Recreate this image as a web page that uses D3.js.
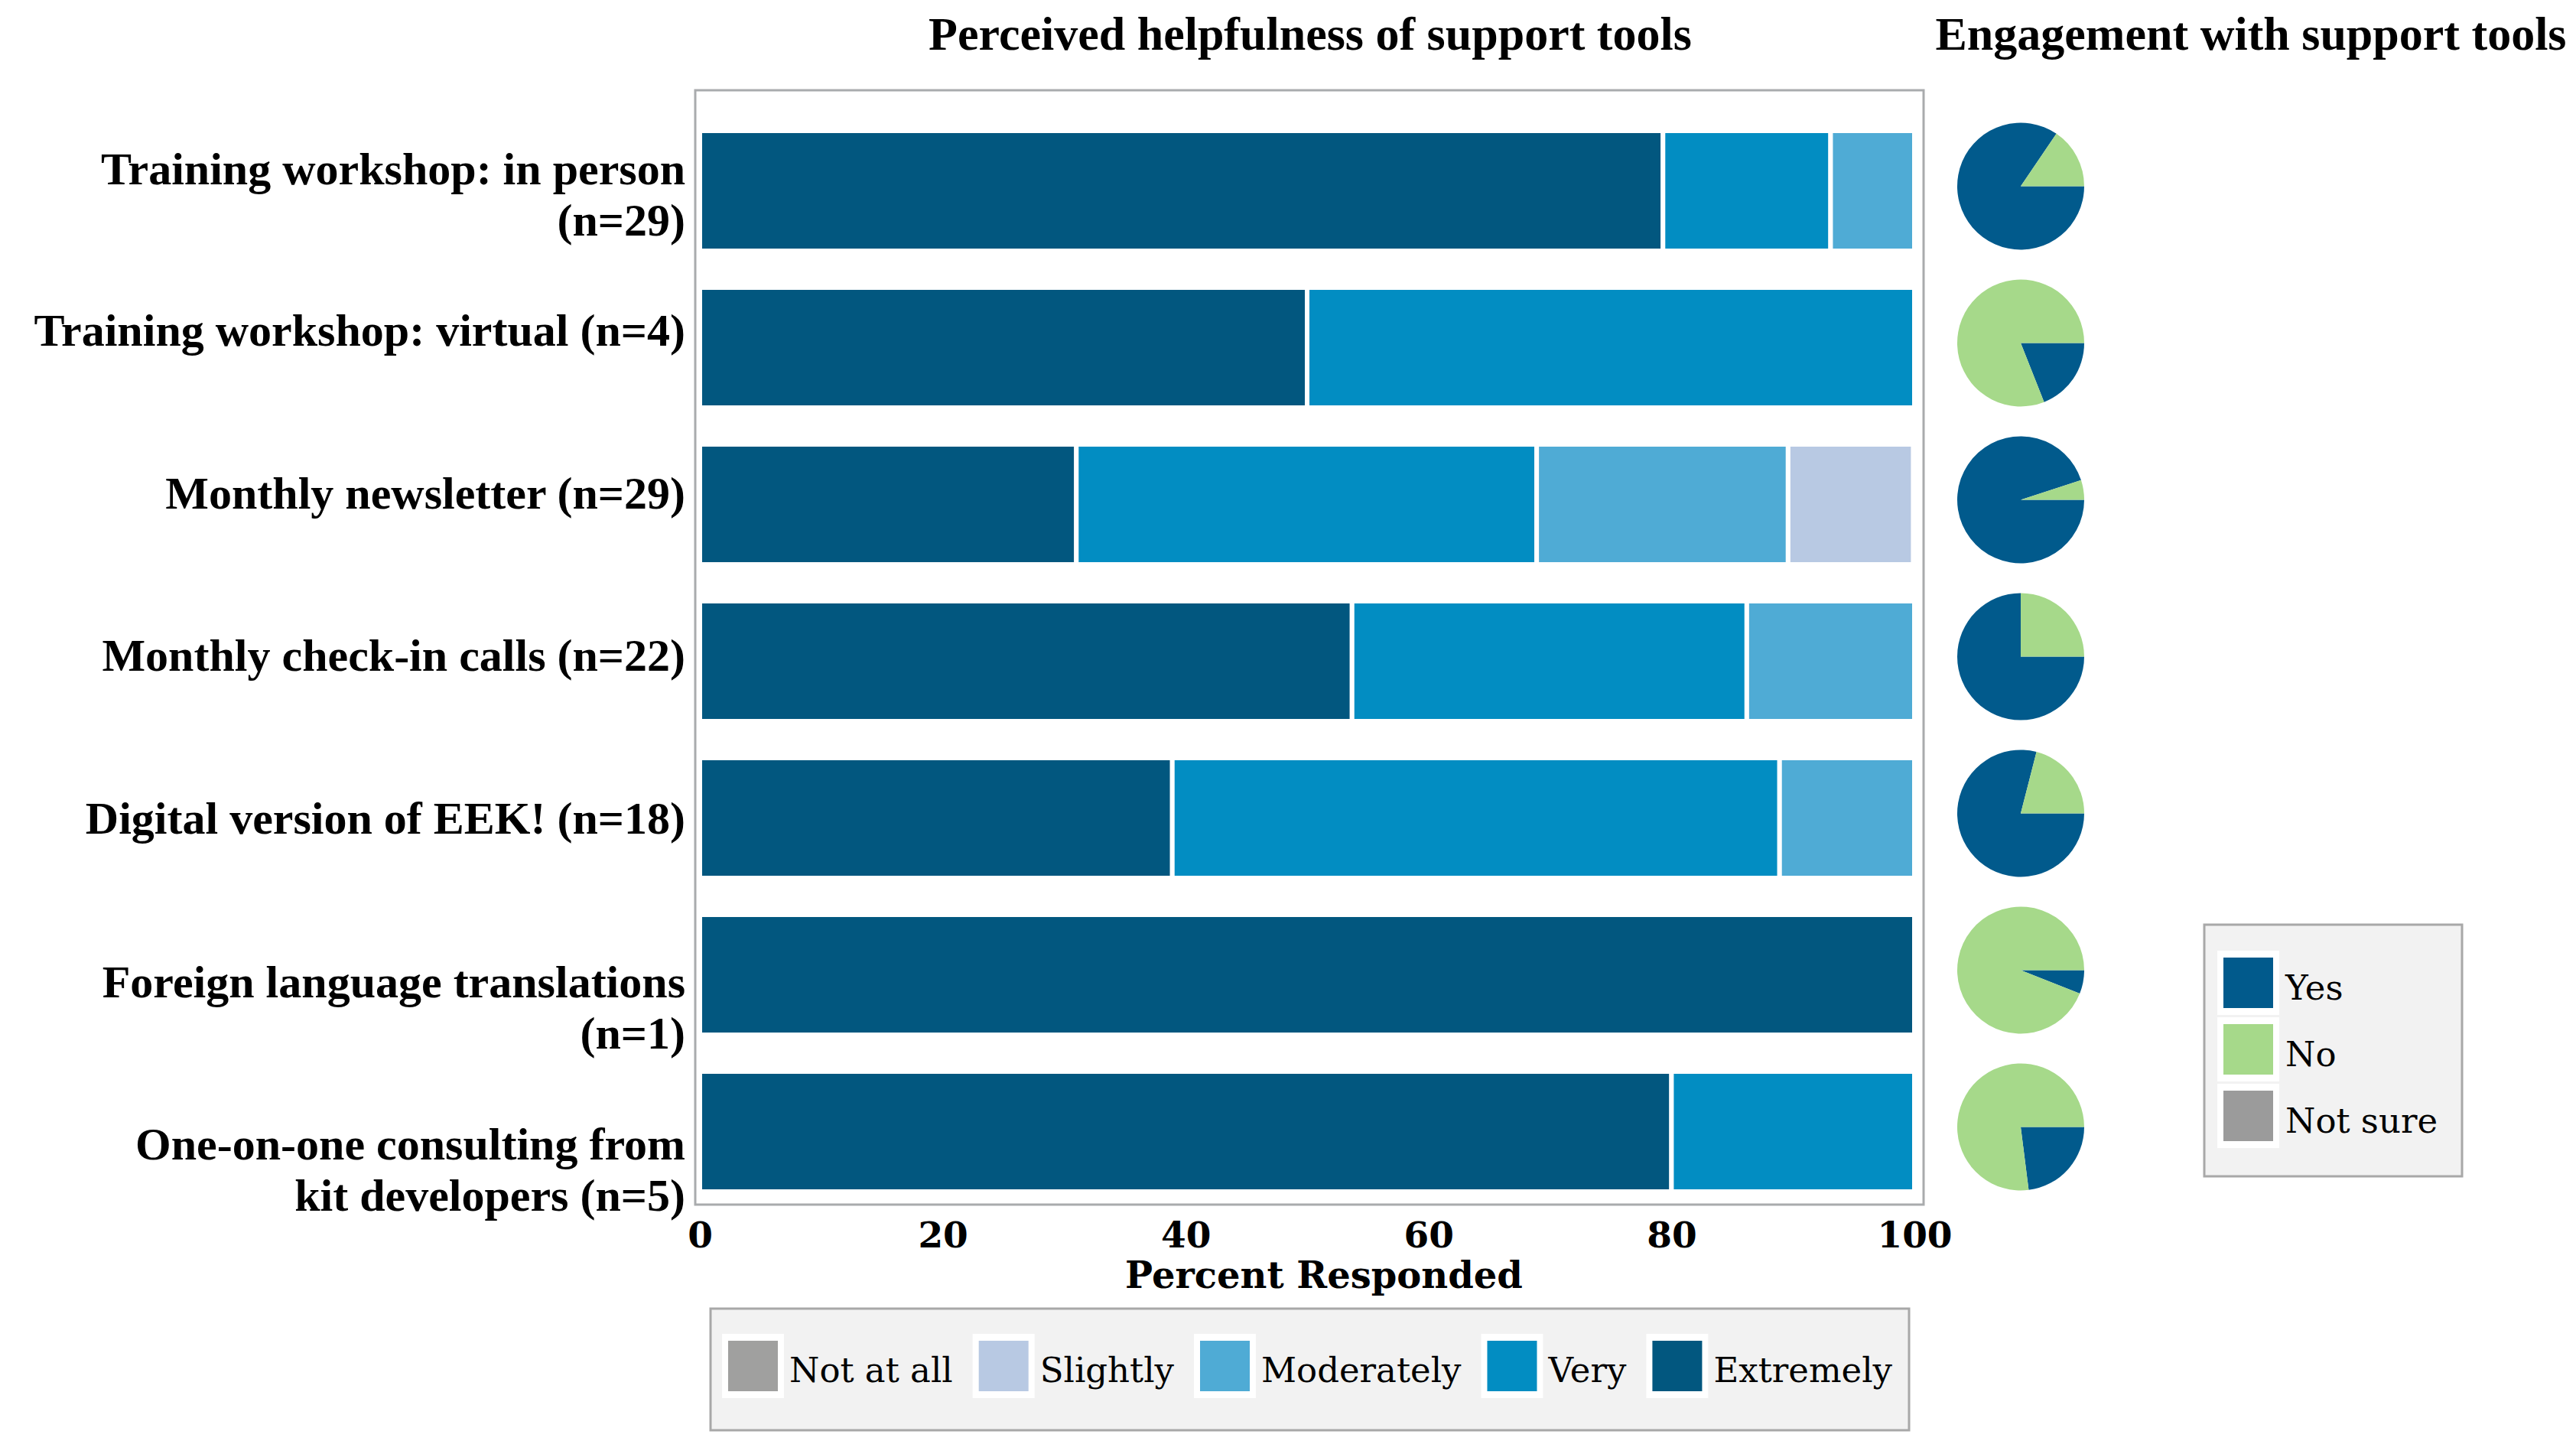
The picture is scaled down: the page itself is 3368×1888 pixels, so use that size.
<!DOCTYPE html>
<html>
<head>
<meta charset="utf-8">
<script src="https://cdn.jsdelivr.net/npm/d3@7"></script>
<style>
  body { margin: 0; background: #fff; }
</style>
</head>
<body>
<div id="chart"></div>
<script>
// categories (line breaks as in the original figure)
var tools = [
  "Training workshop: in person\n(n=29)",
  "Training workshop: virtual (n=4)",
  "Monthly newsletter (n=29)",
  "Monthly check-in calls (n=22)",
  "Digital version of EEK! (n=18)",
  "Foreign language translations\n(n=1)",
  "One-on-one consulting from\nkit developers (n=5)"
];

var helpLevels = ["Not at all", "Slightly", "Moderately", "Very", "Extremely"];

// percent responded, per helpfulness level
var notAtAll   = [0, 0, 0, 0, 0, 0, 0];
var slightly   = [0, 0, 10.3, 0, 0, 0, 0];
var moderately = [6.9, 0, 20.7, 13.8, 11.1, 0, 0];
var very       = [13.8, 50, 37.9, 32.5, 50, 0, 20];
var extremely  = [79.3, 50, 31.0, 53.7, 38.9, 100, 80];

var xTicks = [0, 20, 40, 60, 80, 100];

// engagement pies
var engageLevels = ["Yes", "No", "Not sure"];
var engageYes     = [84.5, 19, 95, 75, 79, 6, 23];
var engageNo      = [15.5, 81, 5, 25, 21, 94, 77];
var engageNotSure = [0, 0, 0, 0, 0, 0, 0];

var helpColor = d3.scaleOrdinal()
  .domain(helpLevels)
  .range(["#a0a09f", "#b8c9e3", "#4fabd5", "#028dc2", "#02577f"]);
var engageColor = d3.scaleOrdinal()
  .domain(engageLevels)
  .range(["#015a8c", "#a6d98a", "#9b9b9b"]);

var width = 3368, height = 1888;
var serif = "'Liberation Serif', 'Times New Roman', serif";
var wide = "'DejaVu Serif', serif";

var svg = d3.select("#chart").append("svg")
  .attr("width", width)
  .attr("height", height);

svg.append("rect").attr("width", width).attr("height", height).attr("fill", "#fff");

var plot = {left: 909, right: 2515, top: 118, bottom: 1575};

var x = d3.scaleLinear().domain([0, 100]).range([915, 2503]);
var y = d3.scaleBand().domain(tools)
  .range([147, 1582])
  .paddingInner(0.234)
  .paddingOuter(0.117);

// titles
svg.append("text")
  .attr("x", 1713).attr("y", 65)
  .attr("text-anchor", "middle")
  .style("font-family", serif).style("font-weight", "bold").style("font-size", "62px")
  .text("Perceived helpfulness of support tools");
svg.append("text")
  .attr("x", 2943).attr("y", 65)
  .attr("text-anchor", "middle")
  .style("font-family", serif).style("font-weight", "bold").style("font-size", "62px")
  .text("Engagement with support tools");

// frame
svg.append("rect")
  .attr("x", plot.left).attr("y", plot.top)
  .attr("width", plot.right - plot.left).attr("height", plot.bottom - plot.top)
  .attr("fill", "#fff").attr("stroke", "#a9abad").attr("stroke-width", 3);

// stacked bars, Extremely first on the left
var rows = tools.map(function(t, i) {
  return {tool: t, "Not at all": notAtAll[i], "Slightly": slightly[i],
          "Moderately": moderately[i], "Very": very[i], "Extremely": extremely[i]};
});
var stack = d3.stack().keys(helpLevels.slice().reverse());
var layers = stack(rows);

svg.append("g").selectAll("g")
  .data(layers)
  .join("g")
    .attr("fill", function(d) { return helpColor(d.key); })
  .selectAll("rect")
  .data(function(d) { return d.filter(function(s) { return s[1] - s[0] > 0; }); })
  .join("rect")
    .attr("x", function(d) { return x(d[0]); })
    .attr("y", function(d) { return y(d.data.tool); })
    .attr("width", function(d) { return x(d[1]) - x(d[0]); })
    .attr("height", y.bandwidth())
    .attr("stroke", "#fff")
    .attr("stroke-width", 6);

// category labels (their spacing runs a little wider than the bars)
var labels = svg.append("g")
  .style("font-family", serif).style("font-weight", "bold").style("font-size", "60px")
  .attr("text-anchor", "end");
tools.forEach(function(t, i) {
  var lines = t.split("\n");
  var lh = 67;
  var cy = y(t) + y.bandwidth() / 2 + 7.5 * i + (lines.length > 1 ? 5 : -30);
  var first = cy - (lines.length - 1) * lh / 2 + 20;
  var txt = labels.append("text").attr("x", 896).attr("y", first);
  lines.forEach(function(l, j) {
    txt.append("tspan").attr("x", 896).attr("y", first + j * lh).text(l);
  });
});

// x axis
var xAxis = svg.append("g")
  .attr("transform", "translate(0," + plot.bottom + ")")
  .call(d3.axisBottom(x).tickValues(xTicks).tickSize(0).tickPadding(23));
xAxis.select(".domain").remove();
xAxis.selectAll("text")
  .style("font-family", wide).style("font-weight", "bold").style("font-size", "47px")
  .attr("fill", "#000");

svg.append("text")
  .attr("x", 1731).attr("y", 1684)
  .attr("text-anchor", "middle")
  .style("font-family", wide).style("font-weight", "bold").style("font-size", "48px")
  .text("Percent Responded");

// pies
var pie = d3.pie().sort(null)
  .startAngle(Math.PI / 2).endAngle(Math.PI / 2 + 2 * Math.PI)
  .value(function(d) { return d.value; });
var arc = d3.arc().innerRadius(0).outerRadius(83);

tools.forEach(function(t, i) {
  var vals = [
    {key: "Yes", value: engageYes[i]},
    {key: "No", value: engageNo[i]},
    {key: "Not sure", value: engageNotSure[i]}
  ];
  svg.append("g")
    .attr("transform", "translate(2642," + (y(t) + y.bandwidth() / 2 - 6) + ")")
    .selectAll("path")
    .data(pie(vals))
    .join("path")
      .attr("d", arc)
      .attr("fill", function(d) { return engageColor(d.data.key); });
});

// helpfulness legend
var lg = svg.append("g");
lg.append("rect")
  .attr("x", 929).attr("y", 1711).attr("width", 1567).attr("height", 159)
  .attr("fill", "#f2f2f2").attr("stroke", "#a8a8a8").attr("stroke-width", 3);
var lx = 952;
helpLevels.forEach(function(k) {
  lg.append("rect")
    .attr("x", lx - 8).attr("y", 1744).attr("width", 81).attr("height", 84)
    .attr("fill", "#fff");
  lg.append("rect")
    .attr("x", lx).attr("y", 1753).attr("width", 65).attr("height", 66)
    .attr("fill", helpColor(k));
  var t = lg.append("text")
    .attr("x", lx + 80).attr("y", 1807)
    .style("font-family", wide).style("font-size", "45px")
    .text(k);
  lx = lx + 80 + t.node().getComputedTextLength() + 34;
});

// engagement legend
var rg = svg.append("g");
rg.append("rect")
  .attr("x", 2882).attr("y", 1209).attr("width", 337).attr("height", 329)
  .attr("fill", "#f2f2f2").attr("stroke", "#a8a8a8").attr("stroke-width", 3);
engageLevels.forEach(function(k, i) {
  var sy = 1252 + i * 87;
  rg.append("rect")
    .attr("x", 2899).attr("y", sy - 9).attr("width", 81).attr("height", 84)
    .attr("fill", "#fff");
  rg.append("rect")
    .attr("x", 2907).attr("y", sy).attr("width", 65).attr("height", 66)
    .attr("fill", engageColor(k));
  rg.append("text")
    .attr("x", 2988).attr("y", sy + 55)
    .style("font-family", wide).style("font-size", "45px")
    .text(k);
});
</script>
</body>
</html>
